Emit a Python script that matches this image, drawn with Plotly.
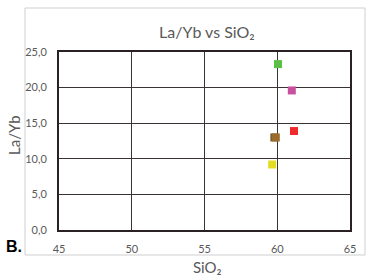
import plotly.graph_objects as go

sio2 = [60.05, 61.0, 61.15, 59.8, 59.9, 59.65]
la_yb = [23.3, 19.6, 13.9, 13.0, 13.0, 9.2]
colors = ["#5cbf45", "#c9509f", "#ee2b2b", "#7a5a30", "#9a6b2a", "#e3dc22"]

x_ticks = [45, 50, 55, 60, 65]
x_labels = ["45", "50", "55", "60", "65"]
y_ticks = [0, 5, 10, 15, 20, 25]
y_labels = ["0,0", "5,0", "10,0", "15,0", "20,0", "25,0"]

FONT = "Lato, Open Sans, sans-serif"
GRAY = "#595959"

fig = go.Figure()
for xv, yv, c in zip(sio2, la_yb, colors):
    fig.add_trace(go.Scatter(x=[xv], y=[yv], mode="markers",
                             marker=dict(symbol="square", size=8, color=c,
                                         line=dict(width=0)),
                             showlegend=False))

W, H = 374, 279
L, R, T, B = 59, 24, 52, 49
pw, ph = W - L - R, H - T - B

def px(x):
    return (x - L) / pw

def py(y):
    return (H - B - y) / ph

fig.add_shape(type="rect", xref="paper", yref="paper",
              x0=px(25), x1=px(365), y0=py(255), y1=py(8),
              line=dict(color="#cfcfcf", width=1), layer="below")

def ann(text, x, y, size, color=GRAY, family=FONT, angle=0):
    fig.add_annotation(text=text, xref="paper", yref="paper",
                       x=px(x), y=py(y), xanchor="center", yanchor="middle",
                       showarrow=False, textangle=angle,
                       font=dict(family=family, size=size, color=color))

ann("La/Yb vs SiO₂", 207, 32, 16)
ann("SiO₂", 207, 267, 15)
ann("La/Yb", 14, 135, 15, angle=-90)
ann("<b>B.</b>", 14, 247, 16, color="#000000", family="Liberation Sans, Arial")

fig.update_xaxes(range=[45, 65], tickvals=x_ticks, ticktext=x_labels,
                 showgrid=True, gridcolor="#3a3333", gridwidth=1,
                 showline=True, linecolor="#2a2222", linewidth=2, mirror=True,
                 zeroline=False, ticks="", ticklabelstandoff=8,
                 tickfont=dict(family=FONT, size=11, color=GRAY))
fig.update_yaxes(range=[0, 25], tickvals=y_ticks, ticktext=y_labels,
                 showgrid=True, gridcolor="#3a3333", gridwidth=1,
                 showline=True, linecolor="#2a2222", linewidth=2, mirror=True,
                 zeroline=False, ticks="", ticklabelstandoff=8,
                 tickfont=dict(family=FONT, size=11, color=GRAY))

fig.update_layout(width=W, height=H, margin=dict(l=L, r=R, t=T, b=B),
                  paper_bgcolor="white", plot_bgcolor="white")

fig.write_html("out.html", config={"displayModeBar": False},
               post_script="document.body.style.margin='0px';document.body.style.overflow='hidden';")
